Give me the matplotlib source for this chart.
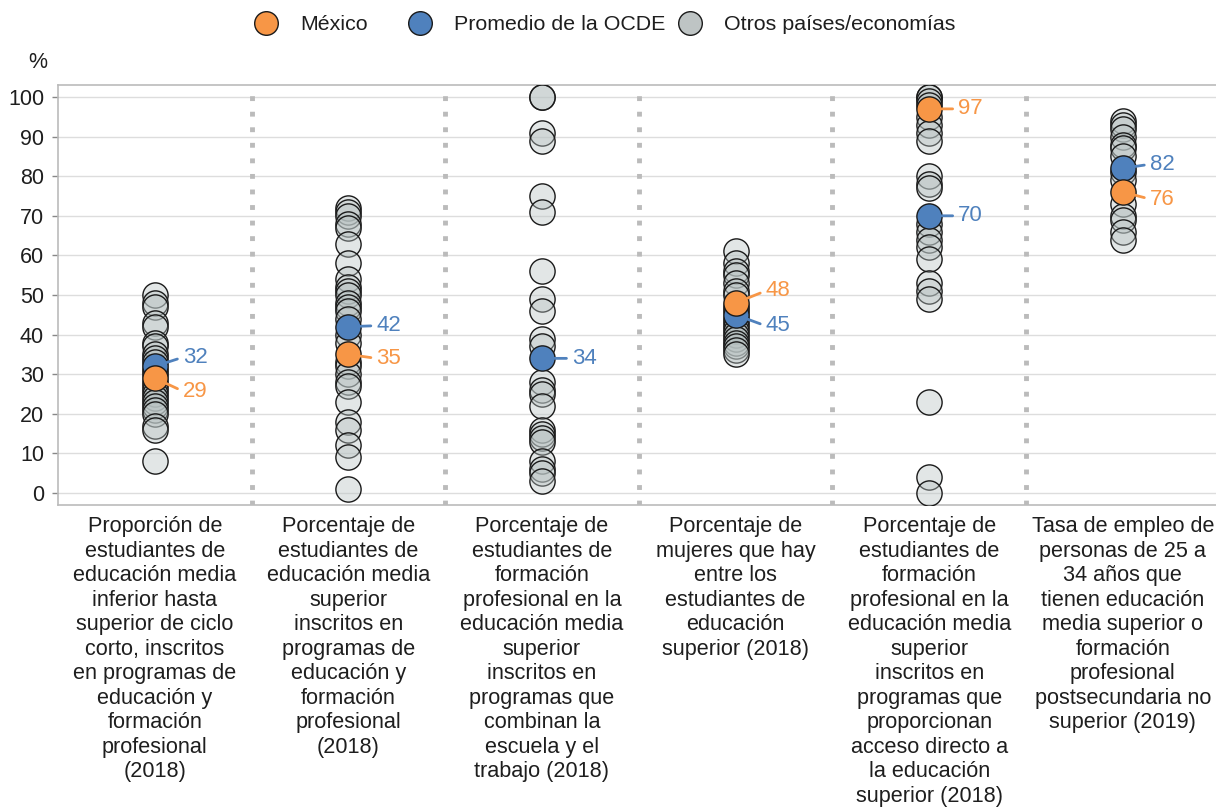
import matplotlib
matplotlib.use("Agg")
import matplotlib.pyplot as plt
from matplotlib.lines import Line2D
import matplotlib.transforms as mtransforms

plt.rcParams['font.family'] = ['Liberation Sans', 'DejaVu Sans']

categories = [
    "Proporción de\nestudiantes de\neducación media\ninferior hasta\nsuperior de ciclo\ncorto, inscritos\nen programas de\neducación y\nformación\nprofesional\n(2018)",
    "Porcentaje de\nestudiantes de\neducación media\nsuperior\ninscritos en\nprogramas de\neducación y\nformación\nprofesional\n(2018)",
    "Porcentaje de\nestudiantes de\nformación\nprofesional en la\neducación media\nsuperior\ninscritos en\nprogramas que\ncombinan la\nescuela y el\ntrabajo (2018)",
    "Porcentaje de\nmujeres que hay\nentre los\nestudiantes de\neducación\nsuperior (2018)",
    "Porcentaje de\nestudiantes de\nformación\nprofesional en la\neducación media\nsuperior\ninscritos en\nprogramas que\nproporcionan\nacceso directo a\nla educación\nsuperior (2018)",
    "Tasa de empleo de\npersonas de 25 a\n34 años que\ntienen educación\nmedia superior o\nformación\nprofesional\npostsecundaria no\nsuperior (2019)",
]

otros = [
    [50, 48, 47, 43, 42, 38, 37, 35, 34, 33, 31, 30, 28, 27, 26, 25, 24, 23, 22, 21, 20, 17, 16, 8],
    [72, 71, 70, 68, 67, 63, 58, 54, 52, 51, 50, 48, 47, 46, 44, 40, 38, 33, 32, 30, 28, 27, 23, 18, 16, 12, 9, 1],
    [100, 100, 91, 89, 75, 71, 56, 49, 46, 39, 37, 28, 26, 25, 22, 16, 15, 14, 13, 8, 6, 5, 3],
    [61, 58, 56, 55, 53, 51, 50, 47, 46, 44, 43, 42, 41, 40, 39, 38, 37, 36, 35],
    [100, 100, 99, 98, 95, 93, 91, 89, 80, 78, 77, 68, 66, 64, 62, 59, 53, 51, 49, 23, 4, 0],
    [94, 93, 92, 90, 88, 87, 85, 81, 79, 73, 70, 69, 66, 64],
]
mexico = [29, 35, None, 48, 97, 76]
ocde = [32, 42, 34, 45, 70, 82]

# label offsets (pixels) : (dx, dy)
mex_off = [(28, -13), (28, -4), None, (30, 12), (29, 0), (27, -7)]
ocde_off = [(28, 9), (28, 1), (30, 0), (30, -11), (29, 0), (27, 4)]

ORANGE = '#F79646'
BLUE = '#4F81BD'
GREY_FACE = (0.72, 0.76, 0.76, 0.4)
TXT = '#1e1e1e'

fig = plt.figure(figsize=(12.16, 8.07), dpi=100)
ax = fig.add_axes([58/1216, 1-505/807, 1161.6/1216, 420/807])
ax.set_xlim(-0.5, 5.5)
ax.set_ylim(-3.03, 103.03)

S = 330
for i, vals in enumerate(otros):
    ax.scatter([i]*len(vals), vals, s=S, facecolor=GREY_FACE, edgecolor='#1a1a1a', linewidth=1.0, zorder=3)

def label(i, v, off, color):
    dx, dy = off
    ax.annotate(str(v), xy=(i, v), xytext=(dx, dy), textcoords='offset pixels',
                ha='left', va='center', color=color, fontsize=16,
                arrowprops=dict(arrowstyle='-', color=color, lw=2, shrinkA=2, shrinkB=9,
                                relpos=(0, 0.5)), zorder=5)

for i, v in enumerate(ocde):
    ax.scatter([i], [v], s=S, facecolor=BLUE, edgecolor='#1a1a1a', linewidth=1.0, zorder=4)
    label(i, v, ocde_off[i], BLUE)
for i, v in enumerate(mexico):
    if v is None:
        continue
    ax.scatter([i], [v], s=S, facecolor=ORANGE, edgecolor='#1a1a1a', linewidth=1.0, zorder=4)
    label(i, v, mex_off[i], ORANGE)

# separators
for k in range(5):
    ax.axvline(k + 0.5, color='#BBBBBB', lw=3.5, linestyle=(0, (1, 2.2)), zorder=1)

ax.set_yticks(range(0, 101, 10))
ax.yaxis.grid(True, color='#DDDDDD', lw=1, zorder=0)
ax.set_axisbelow(True)
ax.set_xticks([])
ax.tick_params(axis='y', labelsize=15.5, colors='#888888', labelcolor=TXT, length=4, width=1, pad=6)
for side in ['left', 'top', 'bottom']:
    ax.spines[side].set_color('#BBBBBB')
    ax.spines[side].set_linewidth(1.2)
ax.spines['right'].set_visible(False)

trans = mtransforms.blended_transform_factory(ax.transData, fig.transFigure)
for i, c in enumerate(categories):
    ax.text(i, 1 - 516/807, c, transform=trans, ha='center', va='top', fontsize=15.6,
            linespacing=1.22, color=TXT)

fig.text(38/1216, 1 - 62/807, '%', ha='center', va='center', fontsize=15.5, color=TXT)

leg_items = [('México', ORANGE, 266), ('Promedio de la OCDE', BLUE, 420),
             ('Otros países/economías', '#BEC4C4', 690)]
for name, col, xc in leg_items:
    h = Line2D([], [], marker='o', linestyle='none', markersize=17,
               markerfacecolor=col, markeredgecolor='#1a1a1a')
    x0 = (xc - 12.8) / 1216
    fig.legend([h], [name], loc='center left', bbox_to_anchor=(x0, 1 - 25/807),
               frameon=False, fontsize=15.4, handletextpad=0.99, handlelength=1.2,
               borderpad=0, borderaxespad=0, labelcolor=TXT)

fig.savefig('out.png', dpi=100)
